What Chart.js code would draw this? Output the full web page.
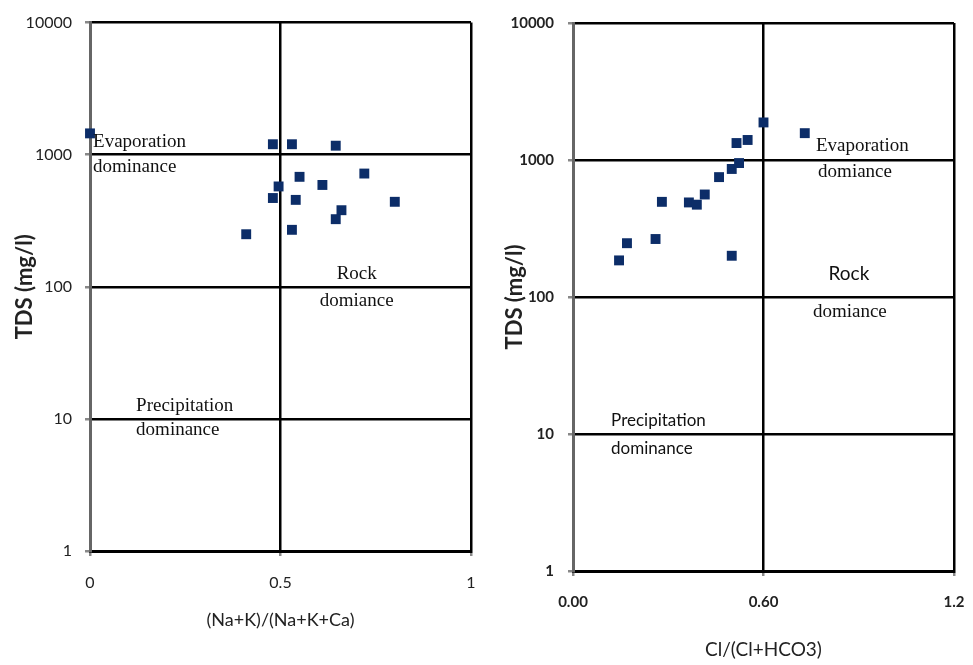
<!DOCTYPE html>
<html>
<head>
<meta charset="utf-8">
<script src="https://cdn.jsdelivr.net/npm/chart.js@4.4.1/dist/chart.umd.min.js"></script>
<style>
  body { margin: 0; background: #fff; }
  .panel { position: absolute; top: 0; height: 665px; }
  #left-box { left: 0; width: 486px; }
  #right-box { left: 486px; width: 487px; }
</style>
</head>
<body>
<div class="panel" id="left-box"><canvas id="left"></canvas></div>
<div class="panel" id="right-box"><canvas id="right"></canvas></div>
<script>
// Gibbs plot values
const cationRatio = [0, 0.48, 0.53, 0.645, 0.72, 0.55, 0.61, 0.495, 0.48, 0.54, 0.8, 0.66, 0.645, 0.53, 0.41];
const cationTds = [1450, 1200, 1200, 1170, 720, 680, 590, 575, 470, 455, 440, 380, 325, 270, 250];
const anionRatio = [0.145, 0.17, 0.26, 0.28, 0.365, 0.39, 0.415, 0.46, 0.5, 0.523, 0.5, 0.515, 0.55, 0.6, 0.73];
const anionTds = [185, 247, 265, 495, 490, 472, 560, 750, 860, 950, 200, 1330, 1400, 1880, 1570];

const tdsTicks = [1, 10, 100, 1000, 10000];
const cationTicks = [0, 0.5, 1];
const anionTicks = [0, 0.6, 1.2];
const anionTickLabels = ["0.00", "0.60", "1.2"];

const markerColor = "#0c2d68";
const serif = "'Liberation Serif', 'DejaVu Serif', serif";
const sans = "Lato, 'Open Sans', sans-serif";

// region labels, placed in data units
const cationNotes = [
  { text: "Evaporation", x: 0.008, y: 1253, align: "left", font: "19px " + serif },
  { text: "dominance", x: 0.008, y: 813, align: "left", font: "19px " + serif },
  { text: "Rock", x: 0.70, y: 126, align: "center", font: "19px " + serif },
  { text: "domiance", x: 0.70, y: 78, align: "center", font: "19px " + serif },
  { text: "Precipitation", x: 0.121, y: 12.5, align: "left", font: "19px " + serif },
  { text: "dominance", x: 0.121, y: 8.25, align: "left", font: "19px " + serif },
];
const anionNotes = [
  { text: "Evaporation", x: 0.765, y: 1260, align: "left", font: "19px " + serif },
  { text: "domiance", x: 0.772, y: 820, align: "left", font: "19px " + serif },
  { text: "Rock", x: 0.869, y: 148, align: "center", font: "19px " + sans },
  { text: "domiance", x: 0.872, y: 78, align: "center", font: "19px " + serif },
  { text: "Precipitation", x: 0.12, y: 12.6, align: "left", font: "17px " + sans },
  { text: "dominance", x: 0.12, y: 7.9, align: "left", font: "17px " + sans },
];

Chart.defaults.color = "#222";
Chart.defaults.font.family = sans;

//plugin that writes the region names
const notesPlugin = {
  id: "notes",
  afterDraw(chart, args, opts) {
    const ctx = chart.ctx;
    const xs = chart.scales.x;
    const ys = chart.scales.y;
    ctx.save();
    ctx.fillStyle = "#111";
    ctx.textBaseline = "middle";
    for (let n of opts.items) {
      ctx.font = n.font;
      ctx.textAlign = n.align;
      ctx.fillText(n.text, xs.getPixelForValue(n.x), ys.getPixelForValue(n.y));
    }
    ctx.restore();
  },
};

const makeChart = (id, xs, ys, o) => {
  return new Chart(document.getElementById(id), {
    type: "scatter",
    plugins: [notesPlugin],
    data: {
      datasets: [
        {
          data: xs.map((v, i) => ({ x: v, y: ys[i] })),
          pointStyle: "rect",
          pointRadius: 7,
          pointHoverRadius: 7,
          backgroundColor: markerColor,
          borderColor: markerColor,
          borderWidth: 0,
          clip: false,
        },
      ],
    },
    options: {
      responsive: true,
      maintainAspectRatio: false,
      animation: false,
      layout: { padding: { top: o.top, right: o.right, left: 0, bottom: 0 } },
      plugins: {
        legend: { display: false },
        tooltip: { enabled: false },
        notes: { items: o.notes },
      },
      scales: {
        x: {
          type: "linear",
          min: o.xTicks[0],
          max: o.xTicks[o.xTicks.length - 1],
          afterBuildTicks: (s) => {
            s.ticks = o.xTicks.map((v) => ({ value: v }));
          },
          afterFit: (s) => {
            s.height = o.xHeight;
            // let the plot reach the panel edge, labels may overhang
            s.paddingLeft = 0;
            s.paddingRight = 0;
          },
          ticks: {
            padding: o.xTickPad,
            font: o.tickFont,
            color: "#222",
            callback: (v, i) => o.xLabels[i],
          },
          grid: {
            color: (c) => (c.tick && c.tick.value === o.xTicks[0] ? "#666" : "#000"),
            lineWidth: 2.5,
            tickLength: 5,
            tickColor: "#888",
          },
          border: { color: "#000", width: 3 },
          title: {
            display: true,
            text: o.xTitle,
            font: { size: o.xTitleSize },
            color: "#222",
            padding: { top: 0, bottom: o.xTitlePad },
          },
        },
        y: {
          type: "logarithmic",
          min: 1,
          max: 10000,
          afterBuildTicks: (s) => {
            s.ticks = tdsTicks.map((v) => ({ value: v }));
          },
          afterFit: (s) => {
            s.width = o.yWidth;
          },
          ticks: {
            padding: o.yTickPad,
            font: o.tickFont,
            color: "#222",
            callback: (v) => String(v),
          },
          grid: {
            color: "#000",
            lineWidth: 2.5,
            tickLength: 5,
            tickColor: "#888",
          },
          border: { color: "#666", width: 3 },
          title: {
            display: true,
            text: "TDS (mg/l)",
            font: { size: 22, weight: "bold" },
            color: "#222",
            padding: { top: o.yTitlePad, bottom: 0 },
          },
        },
      },
    },
  });
};

makeChart("left", cationRatio, cationTds, {
  top: 21,
  right: 15,
  xHeight: 114,
  yWidth: 90,
  xTicks: cationTicks,
  xLabels: ["0", "0.5", "1"],
  xTickPad: 17,
  yTickPad: 13,
  tickFont: { size: 16 },
  xTitle: "(Na+K)/(Na+K+Ca)",
  xTitleSize: 18,
  xTitlePad: 34,
  yTitlePad: 12,
  notes: cationNotes,
});

makeChart("right", anionRatio, anionTds, {
  top: 23,
  right: 19,
  xHeight: 94,
  yWidth: 87,
  xTicks: anionTicks,
  xLabels: anionTickLabels,
  xTickPad: 17,
  yTickPad: 14,
  tickFont: { size: 15, weight: "bold" },
  xTitle: "Cl/(Cl+HCO3)",
  xTitleSize: 19,
  xTitlePad: 4,
  yTitlePad: 16,
  notes: anionNotes,
});
</script>
</body>
</html>
